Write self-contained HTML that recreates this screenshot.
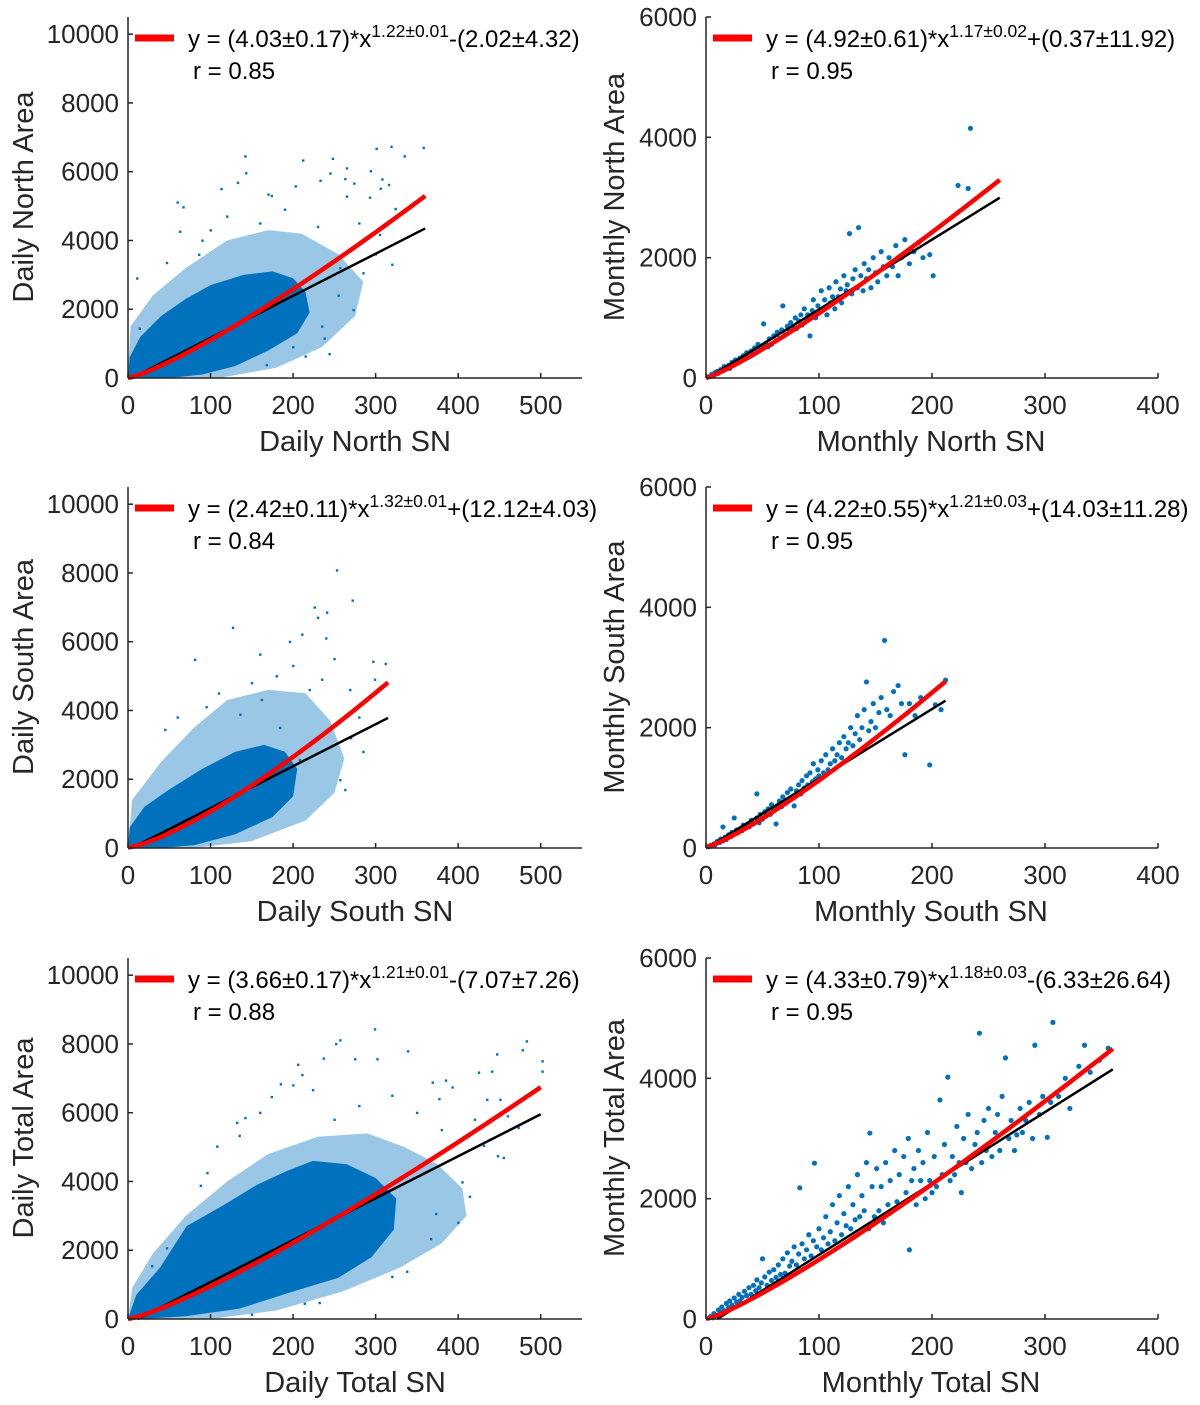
<!DOCTYPE html>
<html><head><meta charset="utf-8"><style>
html,body{margin:0;padding:0;background:#fff}
svg{display:block;font-family:"Liberation Sans",Arial,sans-serif}
</style></head><body>
<svg id="fig" width="1200" height="1405" viewBox="0 0 1200 1405" xmlns="http://www.w3.org/2000/svg"></svg>
<script>
// ---------- data ----------
const dailyXTicks=[0,100,200,300,400,500];
const dailyYTicks=[0,2000,4000,6000,8000,10000];
const monthlyXTicks=[0,100,200,300,400];
const monthlyYTicks=[0,2000,4000,6000];

const dnCore=[[0,0],[2,600],[15,1200],[40,1800],[70,2300],[100,2700],[140,3000],[175,3100],[200,2900],[215,2500],[220,1900],[205,1300],[170,800],[130,350],[90,100],[50,0]];
const dnHalo=[[0,0],[3,1500],[30,2400],[70,3200],[120,4000],[170,4300],[210,4200],[255,3600],[285,2800],[275,1800],[235,900],[180,300],[110,0]];
const dnPts=[[142,6450],[212,6330],[248,6380],[301,6670],[319,6730],[358,6700],[335,6450],[60,5110],[67,4970],[113,5500],[133,5680],[143,5960],[203,5580],[233,5740],[245,5950],[265,6100],[263,5790],[274,5660],[294,6020],[308,5780],[306,5510],[316,5620],[293,5250],[324,4920],[63,4260],[11,2900],[14,1440],[47,3350],[86,3590],[170,5340],[174,5300],[257,3200],[285,3050],[273,1980],[244,700],[215,630],[168,380],[238,1150],[305,4170],[265,5280],[100,4300],[120,4700],[90,4000],[160,4500],[190,4900],[230,4400],[280,4500],[300,3600],[320,3300],[255,2400],[235,1500],[200,900]];

const dsCore=[[0,0],[2,600],[20,1200],[50,1700],[90,2300],[130,2800],[165,3000],[190,2800],[205,2300],[200,1500],[175,900],[130,400],[80,80],[40,0]];
const dsHalo=[[0,0],[5,1400],[40,2500],[80,3500],[120,4300],[170,4600],[215,4500],[245,3700],[262,2600],[250,1600],[215,800],[150,200],[80,0]];
const dsPts=[[253,8080],[241,6850],[226,7000],[230,6700],[272,7200],[196,6000],[127,6410],[81,5480],[162,4310],[235,4900],[297,5420],[312,5360],[208,2560],[257,1980],[263,1690],[45,3440],[136,3880],[184,3500],[220,4600],[160,5630],[211,6210],[269,4600],[299,4900],[180,5000],[250,5500],[280,3800],[110,4500],[95,4100],[200,5300],[240,6100],[270,3200],[285,2800],[60,3800],[150,4800]];

const dtCore=[[0,0],[10,700],[39,1500],[71,2700],[115,3300],[156,3900],[192,4300],[224,4600],[265,4500],[300,4100],[325,3500],[322,2600],[295,1800],[255,1200],[200,800],[135,300],[70,80],[15,0]];
const dtHalo=[[0,0],[5,900],[30,1900],[70,3000],[120,4000],[170,4800],[230,5300],[290,5400],[335,5000],[375,4500],[405,3800],[410,3000],[380,2200],[330,1500],[260,800],[180,250],[100,0]];
const dtPts=[[299,8430],[257,8110],[252,8000],[237,7580],[275,7560],[302,7560],[339,7790],[483,8080],[478,7820],[502,7500],[447,7700],[502,7200],[441,7200],[425,7170],[206,7400],[185,6830],[174,6460],[132,5710],[135,5330],[108,5020],[96,4250],[88,3880],[47,2060],[29,1540],[142,5850],[211,7100],[224,6660],[369,6880],[385,6940],[393,6740],[377,6400],[451,6380],[435,6380],[473,5560],[448,4740],[455,4690],[414,3560],[400,2800],[373,3060],[367,2330],[338,1380],[320,1230],[232,470],[214,450],[150,130],[405,3980],[431,5040],[350,6000],[320,6500],[280,6200],[420,5800],[460,5900],[380,5500],[250,5800],[160,6000],[200,6800]];

const mnPts=[[2,20],[4,30],[5,60],[7,50],[8,90],[10,110],[11,80],[13,140],[15,120],[16,190],[18,170],[20,210],[21,160],[23,260],[25,230],[26,300],[28,250],[30,330],[31,280],[33,370],[35,330],[36,420],[38,350],[40,450],[41,380],[43,500],[45,430],[46,560],[48,470],[50,540],[51,900],[53,580],[55,520],[56,650],[58,560],[60,700],[62,620],[63,760],[65,660],[67,800],[68,1200],[70,720],[72,860],[74,780],[75,920],[77,850],[79,1000],[80,820],[82,950],[84,1050],[85,880],[87,1150],[89,980],[90,1050],[92,700],[94,1120],[95,1300],[97,1000],[99,1200],[100,1100],[102,1450],[104,1150],[105,1300],[107,1050],[109,1500],[110,1250],[112,1350],[114,1150],[115,1600],[117,1350],[119,1480],[120,1250],[122,1700],[124,1450],[125,1550],[127,2400],[129,1400],[130,1650],[132,1800],[134,1500],[135,2500],[137,1700],[139,1450],[140,1900],[142,1650],[144,1800],[146,1500],[148,2000],[150,1750],[152,1600],[155,2100],[157,1850],[160,1700],[162,2000],[165,1850],[168,2200],[170,1700],[173,2000],[176,2300],[180,1900],[184,2100],[188,2250],[192,2000],[198,2050],[201,1700],[223,3200],[232,3150],[234,4150]];

const msPts=[[2,20],[4,40],[5,30],[7,70],[8,50],[10,110],[12,90],[13,150],[15,120],[17,180],[18,140],[20,220],[22,190],[23,260],[25,230],[27,300],[28,250],[30,320],[32,290],[33,380],[35,330],[37,400],[38,350],[40,460],[42,400],[45,500],[47,420],[48,560],[50,480],[52,600],[53,530],[55,650],[57,560],[58,720],[60,620],[62,400],[63,700],[65,780],[67,690],[68,850],[70,740],[72,920],[73,800],[75,980],[77,850],[78,700],[80,950],[82,1050],[84,900],[85,1120],[87,1000],[89,1200],[90,1050],[92,1250],[94,1100],[95,1400],[97,1150],[99,1300],[100,1200],[102,1450],[104,1250],[106,1550],[108,1300],[110,1400],[112,1650],[114,1450],[116,1550],[118,1750],[120,1500],[122,1850],[124,1650],[126,1750],[128,2000],[130,1700],[132,1900],[134,2200],[136,1800],[138,2000],[140,2300],[142,2760],[144,1950],[146,2100],[148,2400],[150,2000],[153,2250],[155,2500],[158,3450],[160,2300],[163,2200],[166,2600],[170,2700],[173,2400],[176,1550],[180,2400],[185,2200],[190,2500],[198,1380],[203,2380],[208,2300],[212,2790],[25,500],[45,900],[15,350]];

const mtPts=[[4,40],[6,20],[7,90],[9,60],[11,150],[13,110],[14,200],[16,140],[18,260],[20,190],[21,300],[23,230],[25,350],[27,280],[29,410],[30,300],[32,360],[34,460],[36,390],[38,520],[40,410],[42,560],[44,470],[45,650],[47,520],[49,600],[50,1000],[52,700],[54,560],[56,780],[58,640],[60,820],[62,690],[64,900],[66,740],[68,1000],[70,760],[72,1100],[74,880],[76,960],[78,1200],[80,900],[82,1080],[83,2180],[85,1250],[87,1000],[89,1150],[91,1400],[93,1050],[95,1300],[96,2590],[98,1200],[100,1500],[102,1150],[104,1350],[106,1700],[108,1250],[110,1450],[112,1900],[114,1300],[116,1600],[118,2050],[120,1400],[122,1750],[124,1550],[126,2200],[128,1500],[130,1900],[132,1650],[134,2400],[136,1700],[138,2050],[140,1800],[142,2600],[144,1500],[145,3090],[147,2200],[149,1700],[151,2500],[153,1800],[155,2200],[157,1600],[159,2600],[161,1900],[163,2300],[165,1800],[167,2800],[169,1950],[171,2400],[173,1900],[175,2700],[177,2100],[179,3000],[180,1150],[182,2300],[184,2500],[186,1900],[188,2800],[190,2300],[192,2600],[194,2000],[196,3100],[198,2300],[200,2100],[202,2700],[204,2200],[207,3640],[209,2400],[211,2900],[214,4020],[216,2300],[218,2700],[220,2400],[222,3200],[224,2600],[226,2100],[228,3000],[230,2600],[232,3400],[235,2500],[238,2900],[240,3100],[242,4750],[244,2600],[246,3300],[248,2800],[250,3500],[253,2700],[256,3100],[258,3400],[260,2800],[262,3700],[265,4340],[268,3000],[270,3300],[273,2800],[275,3060],[278,3500],[280,3100],[283,3300],[286,3600],[289,3000],[291,4550],[295,3400],[298,3700],[302,3020],[305,3600],[307,4930],[312,3700],[318,4000],[322,3500],[330,4200],[335,4550],[340,4100],[348,4300],[356,4500]];

// fit parameters per panel
const fitA=[4.03,4.92,2.42,4.22,3.66,4.33];
const fitB=[1.22,1.17,1.32,1.21,1.21,1.18];
const fitC=[-2.02,0.37,12.12,14.03,-7.07,-6.33];
const linSlope=[12.25,11.6,12.2,11.6,12.2,11.86];
const linInt=[-60,-20,-60,-10,-146,-119];
const fitXEnd=[360,260,315,212,500,360];
const eqA=["4.03±0.17","4.92±0.61","2.42±0.11","4.22±0.55","3.66±0.17","4.33±0.79"];
const eqB=["1.22±0.01","1.17±0.02","1.32±0.01","1.21±0.03","1.21±0.01","1.18±0.03"];
const eqC=["-(2.02±4.32)","+(0.37±11.92)","+(12.12±4.03)","+(14.03±11.28)","-(7.07±7.26)","-(6.33±26.64)"];
const rVals=["0.85","0.95","0.84","0.95","0.88","0.95"];
const xLabels=["Daily North SN","Monthly North SN","Daily South SN","Monthly South SN","Daily Total SN","Monthly Total SN"];
const yLabels=["Daily North Area","Monthly North Area","Daily South Area","Monthly South Area","Daily Total Area","Monthly Total Area"];

// ---------- drawing ----------
const NS="http://www.w3.org/2000/svg";
const svg=document.getElementById('fig');
const BLUE="#0072BD", AX="#262626";
function mk(tag,attrs,parent){const e=document.createElementNS(NS,tag);for(const k in attrs)e.setAttribute(k,attrs[k]);(parent||svg).appendChild(e);return e;}

const rowY0=[378,848,1319];
const panels=[
 {row:0,daily:true,core:dnCore,halo:dnHalo,pts:dnPts},
 {row:0,daily:false,pts:mnPts},
 {row:1,daily:true,core:dsCore,halo:dsHalo,pts:dsPts},
 {row:1,daily:false,pts:msPts},
 {row:2,daily:true,core:dtCore,halo:dtHalo,pts:dtPts},
 {row:2,daily:false,pts:mtPts}
];

panels.forEach((p,i)=>{
  const y0=rowY0[p.row];
  const x0=p.daily?128:706;
  const xLen=p.daily?454:452;
  const xMax=p.daily?550:400;
  const yMax=p.daily?10500:6000;
  const yLen=361;
  const sx=v=>x0+v/xMax*xLen;
  const sy=v=>y0-v/yMax*yLen;
  const g=mk('g',{});
  
  

  const sg=mk('g',{},g);
  
  
  if(p.daily){
    const halo=mk('polygon',{points:p.halo.map(d=>sx(d[0])+','+sy(d[1])).join(' '),fill:BLUE,'fill-opacity':'0.4'},sg);
    
    
    const core=mk('polygon',{points:p.core.map(d=>sx(d[0])+','+sy(d[1])).join(' '),fill:BLUE},sg);
    
    
    p.pts.forEach(d=>{
      const r=mk('rect',{x:sx(d[0])-1,y:sy(d[1])-1,width:2.4,height:2.4,fill:BLUE},sg);
      
      
    });
  } else {
    p.pts.forEach(d=>{
      const c=mk('circle',{cx:sx(d[0]),cy:sy(d[1]),r:2.6,fill:BLUE},sg);
      
      
    });
  }

  const xe=fitXEnd[i];
  const xs=Math.max(0,-linInt[i]/linSlope[i]);
  const bl=mk('line',{x1:sx(xs),y1:sy(linSlope[i]*xs+linInt[i]),x2:sx(xe),y2:sy(linSlope[i]*xe+linInt[i]),stroke:'#000','stroke-width':2.5},g);
  
  
  let pts=[];
  for(let k=0;k<=60;k++){const x=xe*k/60;let y=fitA[i]*Math.pow(x,fitB[i])+fitC[i];if(y<0)y=0;pts.push(sx(x)+','+sy(y));}
  const rl=mk('polyline',{points:pts.join(' '),fill:'none',stroke:'#FF0000','stroke-width':4.5},g);
  
  

  const ax=mk('g',{},g);
  
  
  mk('line',{x1:x0,y1:y0-yLen,x2:x0,y2:y0,stroke:AX,'stroke-width':1.5},ax);
  mk('line',{x1:x0,y1:y0,x2:x0+xLen,y2:y0,stroke:AX,'stroke-width':1.5},ax);
  const xt=p.daily?dailyXTicks:monthlyXTicks;
  const yt=p.daily?dailyYTicks:monthlyYTicks;
  xt.forEach(v=>{
    mk('line',{x1:sx(v),y1:y0,x2:sx(v),y2:y0-5,stroke:AX,'stroke-width':1.5},ax);
    const t=mk('text',{x:sx(v),y:y0+36,'text-anchor':'middle','font-size':26,fill:AX},ax);
    t.textContent=v;
    
    
  });
  yt.forEach(v=>{
    mk('line',{x1:x0,y1:sy(v),x2:x0+5,y2:sy(v),stroke:AX,'stroke-width':1.5},ax);
    const t=mk('text',{x:x0-9,y:sy(v)+9,'text-anchor':'end','font-size':26,fill:AX},ax);
    t.textContent=v;
    
    
  });
  const xl=mk('text',{x:x0+(p.daily?227:225),y:y0+73,'text-anchor':'middle','font-size':29,fill:AX},g);
  xl.textContent=xLabels[i];
  
  
  const lx=p.daily?33:624, ly=y0-181;
  const yl=mk('text',{x:lx,y:ly,'text-anchor':'middle','font-size':29,fill:AX,transform:`rotate(-90 ${lx} ${ly})`},g);
  yl.textContent=yLabels[i];
  
  

  const lg=mk('g',{},g);
  
  
  const top=y0-yLen;
  const lx0=p.daily?135:713;
  mk('line',{x1:lx0,y1:top+21,x2:lx0+39,y2:top+21,stroke:'#FF0000','stroke-width':7},lg);
  const et=mk('text',{x:lx0+53,y:top+30,'font-size':24,fill:'#000'},lg);
  
  
  const t1=mk('tspan',{},et);t1.textContent='y = ('+eqA[i]+')*x';
  const t2=mk('tspan',{dy:-10,'font-size':17.5},et);t2.textContent=eqB[i];
  const t3=mk('tspan',{dy:10},et);t3.textContent=eqC[i];
  const rt=mk('text',{x:lx0+58,y:top+62,'font-size':24,fill:'#000'},lg);
  rt.textContent='r = '+rVals[i];
  
  
});
</script>
</body></html>
